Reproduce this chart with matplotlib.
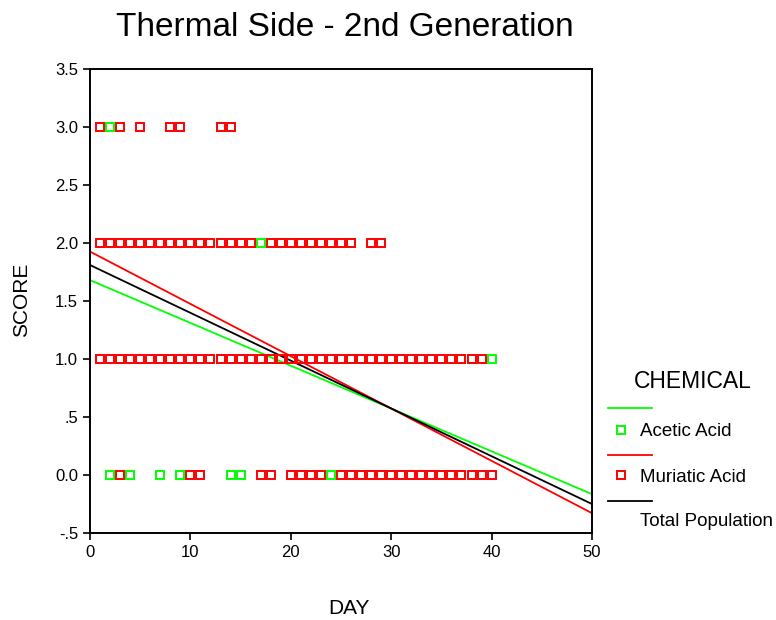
import matplotlib
matplotlib.use("Agg")
import matplotlib.pyplot as plt
from matplotlib.lines import Line2D
import numpy as np

plt.rcParams['font.family'] = ['Liberation Sans', 'DejaVu Sans']

# observed scores by day
acetic_day = [2, 11, 17, 19, 21, 22, 26, 3, 8, 13, 18, 19, 26, 27, 30, 37, 38, 40,
              2, 4, 7, 9, 14, 15, 24]
acetic_score = [3.0] + [2.0] * 6 + [1.0] * 11 + [0.0] * 7

muriatic_day_3 = [1, 3, 5, 8, 9, 13, 14]
muriatic_day_2 = list(range(1, 17)) + list(range(18, 27)) + [28, 29]
muriatic_day_1 = list(range(1, 40))
muriatic_day_0 = [3, 10, 11, 17, 18, 20, 21, 22, 23] + list(range(25, 41))
muriatic_day = muriatic_day_3 + muriatic_day_2 + muriatic_day_1 + muriatic_day_0
muriatic_score = ([3.0] * len(muriatic_day_3) + [2.0] * len(muriatic_day_2)
                  + [1.0] * len(muriatic_day_1) + [0.0] * len(muriatic_day_0))

# fitted lines: (intercept, slope)
fit_acetic = (1.68, -0.0369)
fit_muriatic = (1.926, -0.0451)
fit_total = (1.81, -0.0412)

yticks = [-0.5, 0.0, 0.5, 1.0, 1.5, 2.0, 2.5, 3.0, 3.5]
ytick_labels = ['-.5', '0.0', '.5', '1.0', '1.5', '2.0', '2.5', '3.0', '3.5']
xticks = [0, 10, 20, 30, 40, 50]

green = '#00ff00'
red = '#ff0000'

fig = plt.figure(figsize=(7.76, 6.2), dpi=100)
ax = fig.add_axes([90 / 776, 1 - 533 / 620, 502 / 776, 464 / 620])

xs = np.array([0, 50])
ax.plot(xs, fit_acetic[0] + fit_acetic[1] * xs, color=green, lw=1.3, zorder=2)
ax.plot(xs, fit_muriatic[0] + fit_muriatic[1] * xs, color=red, lw=1.3, zorder=2)
ax.plot(xs, fit_total[0] + fit_total[1] * xs, color='black', lw=1.3, zorder=2)

ax.plot(acetic_day, acetic_score, 's', ms=5.5, mfc='none', mec=green, mew=1.4, zorder=3)
ax.plot(muriatic_day, muriatic_score, 's', ms=5.5, mfc='none', mec=red, mew=1.4, zorder=4)

ax.set_xlim(0, 50)
ax.set_ylim(-0.5, 3.5)
ax.set_xticks(xticks)
ax.set_yticks(yticks)
ax.set_yticklabels(ytick_labels)
ax.tick_params(direction='out', length=5, width=1.2, labelsize=12)
for s in ax.spines.values():
    s.set_linewidth(1.4)

fig.text(345 / 776, 1 - 28 / 620, 'Thermal Side - 2nd Generation', ha='center', va='center', fontsize=24)
fig.text(22 / 776, 1 - 300 / 620, 'SCORE', rotation=90, ha='center', va='center', fontsize=15)
fig.text(349 / 776, 1 - 608 / 620, 'DAY', ha='center', va='center', fontsize=15)

# legend
fig.text(693 / 776, 1 - 381 / 620, 'CHEMICAL', ha='center', va='center', fontsize=16.5)
legend_rows = [(green, 408, 'Acetic Acid', 432), (red, 455, 'Muriatic Acid', 477),
               ('black', 501, 'Total Population', 522)]
for c, ly, label, ty in legend_rows:
    fig.add_artist(Line2D([608 / 776, 652 / 776], [1 - ly / 620] * 2, color=c, lw=1.3))
    if c != 'black':
        fig.add_artist(Line2D([621 / 776], [1 - (ty - 2) / 620], marker='s', ms=5.5,
                              mfc='none', mec=c, mew=1.4, ls='none'))
    fig.text(640 / 776, 1 - ty / 620, label, ha='left', va='center', fontsize=13.5)

fig.savefig('out.png', dpi=100)
